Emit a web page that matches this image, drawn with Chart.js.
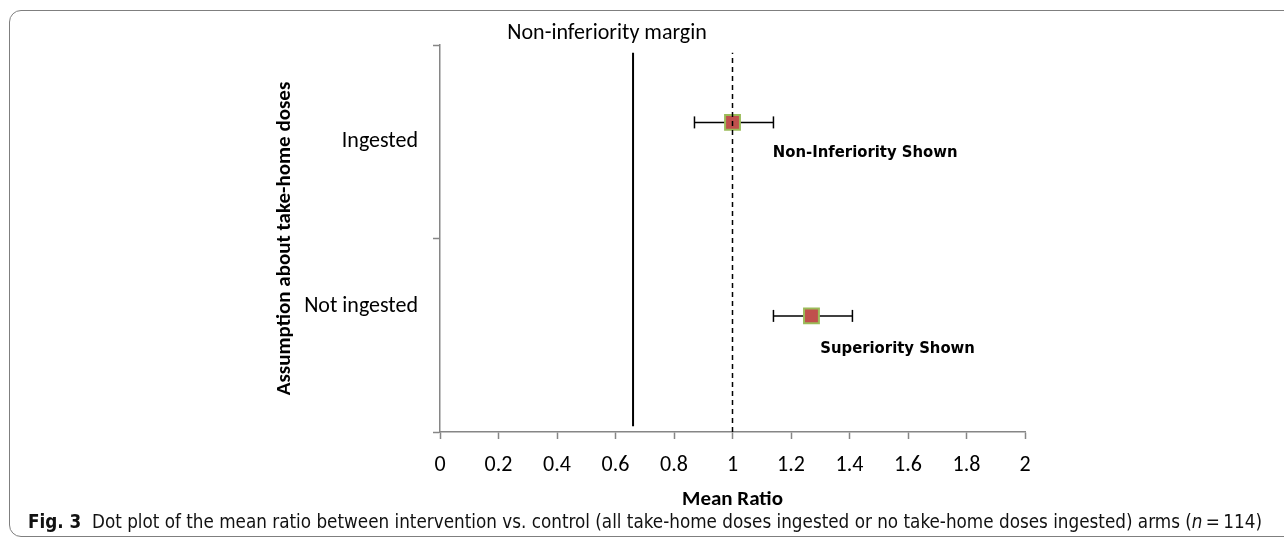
<!DOCTYPE html>
<html>
<head>
<meta charset="utf-8">
<script src="https://cdn.jsdelivr.net/npm/chart.js@4.4.0/dist/chart.umd.min.js"></script>
<style>
html, body { margin: 0; padding: 0; background: #fff; width: 1284px; height: 542px; overflow: hidden; }
#frame { position: absolute; left: 9px; top: 10px; width: 1400px; height: 525px; border: 1.5px solid #7f7f7f; border-radius: 12px; }
#wrap { position: absolute; left: 0; top: 0; width: 1284px; height: 542px; }
#caption { position: absolute; left: 28px; top: 510px; white-space: nowrap; color: #111;
  font-family: "DejaVu Sans Condensed", "Liberation Sans Narrow", sans-serif; font-size: 19px; transform-origin: 0 0; }
</style>
</head>
<body>
<div id="frame"></div>
<div id="wrap"><canvas id="graph" width="1284" height="542"></canvas></div>
<div id="caption"><b>Fig. 3</b>&nbsp; Dot plot of the mean ratio between intervention vs. control (all take-home doses ingested or no take-home doses ingested) arms (<i>n</i>&thinsp;=&thinsp;114)</div>
<script>
// data
var categories = ["Ingested", "Not ingested"];
var meanRatio = [1.00, 1.27];
var lowerCI = [0.87, 1.14];
var upperCI = [1.14, 1.41];
var rowY = [1.6, 0.6];
var labelY = [1.5, 0.65];
var marginValue = 0.66;
var refValue = 1;
var xTicks = [0, 0.2, 0.4, 0.6, 0.8, 1, 1.2, 1.4, 1.6, 1.8, 2];
var yTicks = [0, 1, 2];

var FONT = "Carlito, Lato, sans-serif";
var NARROW = "'DejaVu Sans Condensed', 'Liberation Sans Narrow', sans-serif";
var AXIS = "#868686";

var notes = [
    { text: "Non-inferiority margin", x: 0.571, y: 2.06, align: "center", font: "22px " + FONT },
    { text: "Non-Inferiority Shown", x: 1.138, y: 1.445, align: "left", font: "bold 16.5px " + NARROW },
    { text: "Superiority Shown", x: 1.30, y: 0.428, align: "left", font: "bold 16.5px " + NARROW }
];

var notesPlugin = {
    id: "notes",
    afterDraw: function(chart) {
        var c = chart.ctx, xs = chart.scales.x, ys = chart.scales.y;
        c.save();
        c.fillStyle = "#000";
        c.textBaseline = "middle";
        notes.forEach(function(n) {
            c.font = n.font;
            c.textAlign = n.align;
            c.fillText(n.text, xs.getPixelForValue(n.x), ys.getPixelForValue(n.y));
        });
        c.restore();
    }
};

var datasets = [];
// dashed line at ratio 1 (drawn on top)
datasets.push({
    data: [{ x: refValue, y: 0 }, { x: refValue, y: 1.96 }],
    showLine: true, borderColor: "#000", borderWidth: 1.5, borderDash: [5, 4],
    pointRadius: 0, order: 0
});
// mean markers
datasets.push({
    data: categories.map(function(c, i) { return { x: meanRatio[i], y: rowY[i] }; }),
    pointStyle: "rect", pointRadius: 10.5, backgroundColor: "#C0504D",
    borderColor: "#9BBB59", borderWidth: 2, order: 1
});
// error bars
categories.forEach(function(c, i) {
    datasets.push({
        data: [{ x: lowerCI[i], y: rowY[i] }, { x: upperCI[i], y: rowY[i] }],
        showLine: true, borderColor: "#000", borderWidth: 1.5,
        pointStyle: "line", pointRotation: 90, pointRadius: 6,
        pointBorderWidth: 1.5, pointBorderColor: "#000", order: 2
    });
});
// non-inferiority margin
datasets.push({
    data: [{ x: marginValue, y: 0.03 }, { x: marginValue, y: 1.96 }],
    showLine: true, borderColor: "#000", borderWidth: 2, pointRadius: 0, order: 3
});

new Chart(document.getElementById("graph").getContext("2d"), {
    type: "scatter",
    data: { datasets: datasets },
    options: {
        responsive: false,
        animation: false,
        devicePixelRatio: 1,
        layout: { padding: { left: 265, top: 45, right: 259, bottom: 0 } },
        plugins: { legend: { display: false }, tooltip: { enabled: false } },
        scales: {
            x: {
                type: "linear", min: 0, max: 2,
                afterBuildTicks: function(s) { s.ticks = xTicks.map(function(v) { return { value: v }; }); },
                afterFit: function(s) { s.height = 110; },
                grid: { drawOnChartArea: false, tickLength: 7, color: AXIS, tickWidth: 1.5 },
                border: { color: AXIS, width: 1.5 },
                ticks: {
                    color: "#000", font: { family: FONT, size: 22 }, padding: 13,
                    maxRotation: 0, autoSkip: false,
                    callback: function(v) { return String(v); }
                },
                title: {
                    display: true, text: "Mean Ratio", color: "#000",
                    font: { family: FONT, size: 21, weight: "bold" },
                    padding: { top: 0, bottom: 30 }
                }
            },
            y: {
                type: "linear", min: 0, max: 2,
                afterBuildTicks: function(s) {
                    s.ticks = yTicks.concat(labelY).sort().map(function(v) { return { value: v }; });
                },
                afterFit: function(s) { s.width = 175; },
                grid: {
                    drawOnChartArea: false, tickLength: 7, tickWidth: 1.5, color: AXIS,
                    tickColor: function(ctx) {
                        return ctx.tick && labelY.indexOf(ctx.tick.value) >= 0 ? "rgba(0,0,0,0)" : AXIS;
                    }
                },
                border: { color: AXIS, width: 1.5 },
                ticks: {
                    color: "#000", font: { family: FONT, size: 22 }, padding: 15, autoSkip: false,
                    callback: function(v) {
                        var i = labelY.indexOf(v);
                        return i >= 0 ? categories[i] : "";
                    }
                },
                title: {
                    display: true, text: "Assumption about take-home doses", color: "#000",
                    font: { family: FONT, size: 21, weight: "bold" },
                    padding: { top: 7, bottom: 0 }
                }
            }
        }
    },
    plugins: [notesPlugin]
});

// stretch caption to the width it has in the figure
var cap = document.getElementById("caption");
cap.style.transform = "scaleX(" + (1234 / cap.getBoundingClientRect().width) + ")";
</script>
</body>
</html>
